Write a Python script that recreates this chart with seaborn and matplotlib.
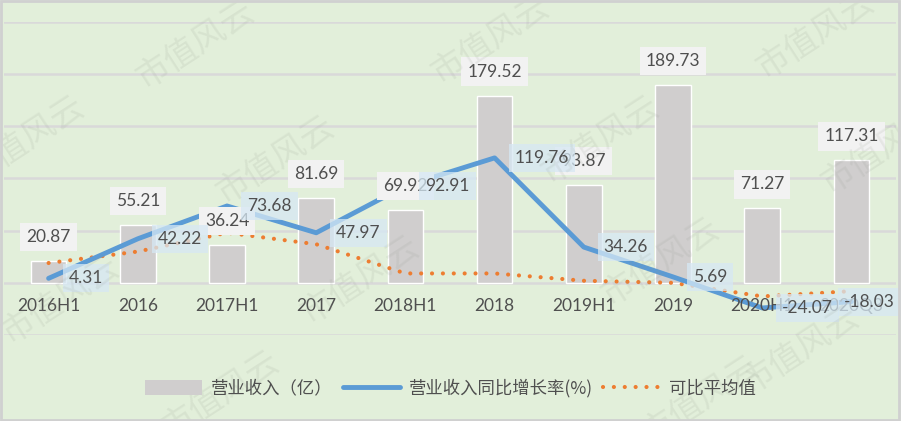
import numpy as np
import pandas as pd
import matplotlib
matplotlib.use("Agg")
import matplotlib.pyplot as plt
from matplotlib.patches import Rectangle, Patch
from matplotlib.lines import Line2D
import seaborn as sns

# ---- data ----
periods = ["2016H1", "2016", "2017H1", "2017", "2018H1", "2018",
           "2019H1", "2019", "2020H1", "2020Q3"]
revenue = [20.87, 55.21, 36.24, 81.69, 69.92, 179.52, 93.87, 189.73, 71.27, 117.31]
growth = [4.31, 42.22, 73.68, 47.97, 92.91, 119.76, 34.26, 5.69, -24.07, -18.03]
comp_avg = [19, 30, 48, 37, 9, 9, 2, 0, -13, -8]
legend_labels = ["营业收入（亿）", "营业收入同比增长率(%)", "可比平均值"]
watermark = "市值风云"

BG = "#E2EFDA"
BAR = "#D0CECE"
BLUE = "#5B9BD5"
ORANGE = "#ED7D31"
TXT = "#4F4F4F"
GRID = "#D9D9D9"

sns.set_theme(style="white")
plt.rcParams["font.family"] = ["Lato", "Noto Sans CJK SC", "DejaVu Sans"]

df = pd.DataFrame({"period": periods, "idx": np.arange(len(periods)),
                   "revenue": revenue, "growth": growth, "avg": comp_avg})

W, H = 901, 421
fig = plt.figure(figsize=(W / 100, H / 100), dpi=100, facecolor=BG)
ax = fig.add_axes([4 / W, 1 - 335 / H, 892 / W, 313 / H])
ax.set_facecolor(BG)

# watermark
wm_pos = [(195, 45), (275, 160), (490, 40), (600, 140), (815, 35), (880, 150),
          (25, 140), (60, 300), (360, 280), (660, 262), (220, 395), (800, 350), (700, 400)]
for (px, py) in wm_pos:
    fig.text(px / W, 1 - py / H, watermark, rotation=33, ha="center", va="center",
             fontsize=24, color="#8f968a", alpha=0.13, family=["Noto Sans CJK SC"], zorder=0)

# gridlines
for g in range(-50, 251, 50):
    ax.axhline(g, color=GRID, lw=1.8, zorder=0)

sns.barplot(data=df, x="idx", y="revenue", color=BAR, width=0.4, saturation=1,
            ax=ax, zorder=2, native_scale=False)
sns.lineplot(data=df, x="idx", y="growth", color=BLUE, lw=3.5, ax=ax, zorder=4)
sns.lineplot(data=df, x="idx", y="avg", color=ORANGE, lw=3, ax=ax, zorder=3)
avg_line = ax.lines[-1]
avg_line.set_dashes((0.01, 2.6))
avg_line.set_dash_capstyle("round")

ax.set_xlim(-0.5, len(periods) - 0.5)
ax.set_ylim(-50, 250)
ax.set_xticks([])
ax.set_yticks([])
ax.set_xlabel("")
ax.set_ylabel("")
for s in ax.spines.values():
    s.set_visible(False)

# category labels
for i, p in enumerate(periods):
    ax.text(i, -22, p, ha="center", va="center", fontsize=12.5, color=TXT, zorder=5)

# bar labels
for i, v in enumerate(revenue):
    ax.annotate(f"{v:.2f}", (i, v), xytext=(0, 24), textcoords="offset pixels",
                ha="center", va="center", fontsize=12.5, color=TXT, zorder=6,
                bbox=dict(boxstyle="square,pad=0.35", fc="#F2F2F2", ec="none"))

# growth labels
for i, v in enumerate(growth):
    if i == len(growth) - 1:
        off, ha = (18, 0), "center"
    else:
        off, ha = (20, 0), "left"
    ax.annotate(f"{v:.2f}", (i, v), xytext=off, textcoords="offset pixels",
                ha=ha, va="center", fontsize=12.5, color=TXT, zorder=7,
                bbox=dict(boxstyle="square,pad=0.35", fc="#D6E8F4", ec="none", alpha=0.75))

# legend
handles = [Patch(fc=BAR, ec="none"),
           Line2D([], [], color=BLUE, lw=3.5),
           Line2D([], [], color=ORANGE, lw=3, dashes=(0.01, 2.6), dash_capstyle="round")]
fig.legend(handles, legend_labels, loc="center", bbox_to_anchor=(0.5, 1 - 388 / H),
           ncol=3, frameon=False, handlelength=3.3, handleheight=0.9,
           columnspacing=0.6, handletextpad=0.5, labelcolor=TXT,
           prop={"family": ["Noto Sans CJK SC", "DejaVu Sans"], "size": 12.5})

# figure border
fig.patches.append(Rectangle((0.001, 0.002), 0.997, 0.995, transform=fig.transFigure,
                             fill=False, ec="#D0D0D0", lw=2))

fig.savefig("out.png", dpi=100, facecolor=BG)
